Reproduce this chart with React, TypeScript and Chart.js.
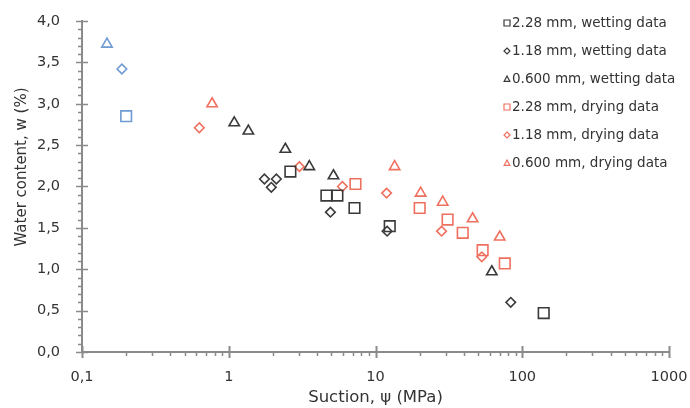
import React, { useEffect, useRef } from 'react';
import { Chart, registerables } from 'chart.js';

Chart.register(...registerables);

// ---- data (suction in MPa, water content in %) ----
const wet228X = [2.63, 4.63, 5.5, 7.19, 12.5, 140];
const wet228Y = [2.18, 1.89, 1.89, 1.74, 1.52, 0.47];
const wet118X = [1.75, 1.95, 2.11, 4.93, 12, 83.5];
const wet118Y = [2.09, 1.99, 2.09, 1.69, 1.46, 0.6];
const wet060X = [1.09, 1.36, 2.43, 3.54, 5.17, 62];
const wet060Y = [2.77, 2.67, 2.45, 2.24, 2.13, 0.97];
const dry228X = [7.3, 20, 31, 39.3, 53.7, 76];
const dry228Y = [2.03, 1.74, 1.6, 1.44, 1.23, 1.07];
const dry118X = [0.63, 3.03, 5.95, 11.9, 28.2, 53];
const dry118Y = [2.71, 2.24, 2.0, 1.92, 1.46, 1.15];
const dry060X = [0.77, 13.5, 20.3, 28.7, 45.9, 70.2];
const dry060Y = [3.0, 2.24, 1.92, 1.81, 1.61, 1.39];
const init228X = [0.2];
const init228Y = [2.85];
const init118X = [0.187];
const init118Y = [3.42];
const init060X = [0.148];
const init060Y = [3.72];

const seriesLabels = [
  '2.28 mm, wetting data',
  '1.18 mm, wetting data',
  '0.600 mm, wetting data',
  '2.28 mm, drying data',
  '1.18 mm, drying data',
  '0.600 mm, drying data',
];
const xDecades = [0.1, 1, 10, 100, 1000];
const yMin = 0;
const yMax = 4;
const yStep = 0.5;
const xTitle = 'Suction, ψ (MPa)';
const yTitle = 'Water content, w (%)';

const FONT = "'DejaVu Sans', 'Liberation Sans', sans-serif";
const BLACK = '#3a3a3a';
const RED = '#f0705f';
const BLUE = '#6f9bd4';
const AXIS = '#8a8a8a';
const TEXT = '#333333';

const pts = (xs: number[], ys: number[]) => xs.map((x, i) => ({ x, y: ys[i] }));

const styleFor = (shape: string) => {
  if (shape === 'rect') return { pointStyle: 'rect', pointRadius: 7.5 };
  if (shape === 'rectRot') return { pointStyle: 'rectRot', pointRadius: 4.8 };
  return { pointStyle: 'triangle', pointRadius: 6 };
};

function mkDataset(label: string, xs: number[], ys: number[], shape: string, color: string, inLegend: boolean) {
  const s = styleFor(shape);
  return {
    label,
    data: pts(xs, ys),
    pointStyle: s.pointStyle,
    pointRadius: s.pointRadius,
    pointHoverRadius: s.pointRadius,
    borderColor: color,
    backgroundColor: 'rgba(0,0,0,0)',
    pointBorderWidth: 1.6,
    borderWidth: 1.6,
    showLine: false,
    inLegend,
    shape,
  } as any;
}

const axesPlugin = {
  id: 'customAxes',
  afterDatasetsDraw(chart: any) {
    const { ctx, chartArea } = chart;
    const xs = chart.scales.x;
    const ys = chart.scales.y;
    ctx.save();
    ctx.strokeStyle = AXIS;
    ctx.lineCap = 'butt';
    ctx.lineWidth = 2;
    ctx.beginPath();
    ctx.moveTo(chartArea.left, chartArea.top - 1);
    ctx.lineTo(chartArea.left, chartArea.bottom);
    ctx.lineTo(chartArea.right + 1, chartArea.bottom);
    ctx.stroke();
    ctx.lineWidth = 1.5;
    for (let v = yMin; v <= yMax + 1e-9; v += 0.1) {
      const y = Math.round(ys.getPixelForValue(v)) + 0.5;
      const major = Math.abs(v / yStep - Math.round(v / yStep)) < 1e-6;
      ctx.beginPath();
      if (major) {
        ctx.moveTo(chartArea.left - 6, y);
        ctx.lineTo(chartArea.left + 6, y);
      } else {
        ctx.moveTo(chartArea.left - 4, y);
        ctx.lineTo(chartArea.left, y);
      }
      ctx.stroke();
    }
    for (let d = 0; d < xDecades.length; d++) {
      const dec = xDecades[d];
      const xM = Math.round(xs.getPixelForValue(dec)) + 0.5;
      ctx.lineWidth = 2;
      ctx.beginPath();
      ctx.moveTo(xM, chartArea.bottom - 6);
      ctx.lineTo(xM, chartArea.bottom + 6);
      ctx.stroke();
      if (d < xDecades.length - 1) {
        ctx.lineWidth = 1.5;
        for (let m = 2; m <= 9; m++) {
          const x = Math.round(xs.getPixelForValue(dec * m)) + 0.5;
          ctx.beginPath();
          ctx.moveTo(x, chartArea.bottom);
          ctx.lineTo(x, chartArea.bottom + 4);
          ctx.stroke();
        }
      }
    }
    // y-axis title
    ctx.save();
    ctx.translate(22, 167);
    ctx.rotate(-Math.PI / 2);
    ctx.font = `15px ${FONT}`;
    ctx.fillStyle = TEXT;
    ctx.textAlign = 'center';
    ctx.textBaseline = 'middle';
    ctx.fillText(yTitle, 0, 0);
    ctx.restore();
    ctx.restore();
  },
};

function drawMarker(ctx: CanvasRenderingContext2D, shape: string, x: number, y: number, r: number) {
  ctx.beginPath();
  if (shape === 'rect') {
    ctx.rect(x - r, y - r, 2 * r, 2 * r);
  } else if (shape === 'rectRot') {
    ctx.moveTo(x, y - r);
    ctx.lineTo(x + r, y);
    ctx.lineTo(x, y + r);
    ctx.lineTo(x - r, y);
    ctx.closePath();
  } else {
    ctx.moveTo(x, y - r);
    ctx.lineTo(x + r * 0.95, y + r * 0.8);
    ctx.lineTo(x - r * 0.95, y + r * 0.8);
    ctx.closePath();
  }
  ctx.stroke();
}

const legendPlugin = {
  id: 'customLegend',
  afterDraw(chart: any) {
    const { ctx } = chart;
    const items = chart.data.datasets.filter((d: any) => d.inLegend);
    ctx.save();
    ctx.font = `13.5px ${FONT}`;
    ctx.textBaseline = 'middle';
    ctx.textAlign = 'left';
    items.forEach((ds: any, i: number) => {
      const y = 23 + i * 28;
      ctx.strokeStyle = ds.borderColor;
      ctx.lineWidth = 1.2;
      drawMarker(ctx, ds.shape, 507, y, 3);
      ctx.fillStyle = TEXT;
      ctx.fillText(ds.label, 512, y);
    });
    ctx.restore();
  },
};

export default function App() {
  const ref = useRef<HTMLCanvasElement | null>(null);

  useEffect(() => {
    document.body.style.margin = '0';
    const canvas = ref.current;
    if (!canvas) return;
    const datasets = [
      mkDataset(seriesLabels[0], wet228X, wet228Y, 'rect', BLACK, true),
      mkDataset(seriesLabels[1], wet118X, wet118Y, 'rectRot', BLACK, true),
      mkDataset(seriesLabels[2], wet060X, wet060Y, 'triangle', BLACK, true),
      mkDataset(seriesLabels[3], dry228X, dry228Y, 'rect', RED, true),
      mkDataset(seriesLabels[4], dry118X, dry118Y, 'rectRot', RED, true),
      mkDataset(seriesLabels[5], dry060X, dry060Y, 'triangle', RED, true),
      mkDataset('initial 2.28', init228X, init228Y, 'rect', BLUE, false),
      mkDataset('initial 1.18', init118X, init118Y, 'rectRot', BLUE, false),
      mkDataset('initial 0.600', init060X, init060Y, 'triangle', BLUE, false),
    ];
    const chart = new Chart(canvas, {
      type: 'scatter',
      data: { datasets },
      options: {
        animation: false,
        responsive: false,
        maintainAspectRatio: false,
        layout: { padding: { top: 21, right: 21, left: 0, bottom: 0 } },
        plugins: {
          legend: { display: false },
          tooltip: { enabled: false },
        },
        scales: {
          x: {
            type: 'logarithmic',
            min: 0.1,
            max: 1000,
            afterFit: (s: any) => { s.height = 56; s.paddingLeft = 0; s.paddingRight = 0; },
            grid: { display: false },
            border: { display: false },
            ticks: {
              autoSkip: false,
              maxRotation: 0,
              padding: 9,
              color: TEXT,
              font: { family: FONT, size: 14.5 },
              callback: (v: any) => {
                const n = Number(v);
                return xDecades.some((d) => Math.abs(d - n) / d < 1e-6) ? String(n).replace('.', ',') : '';
              },
            },
            title: {
              display: true,
              text: xTitle,
              color: TEXT,
              font: { family: FONT, size: 16.5 },
              padding: { top: 0, bottom: 0 },
            },
          },
          y: {
            type: 'linear',
            min: yMin,
            max: yMax,
            afterFit: (s: any) => { s.width = 82; s.paddingTop = 0; s.paddingBottom = 0; },
            grid: { display: false },
            border: { display: false },
            ticks: {
              stepSize: yStep,
              padding: 14,
              color: TEXT,
              font: { family: FONT, size: 14.5 },
              callback: (v: any) => Number(v).toFixed(1).replace('.', ','),
            },
            title: { display: false },
          },
        },
      },
      plugins: [axesPlugin, legendPlugin],
    } as any);
    return () => chart.destroy();
  }, []);

  return (
    <div style={{ position: 'absolute', left: 0, top: 0, width: 690, height: 408, background: '#fff' }}>
      <canvas ref={ref} width={690} height={408} style={{ width: 690, height: 408, display: 'block' }} />
    </div>
  );
}
